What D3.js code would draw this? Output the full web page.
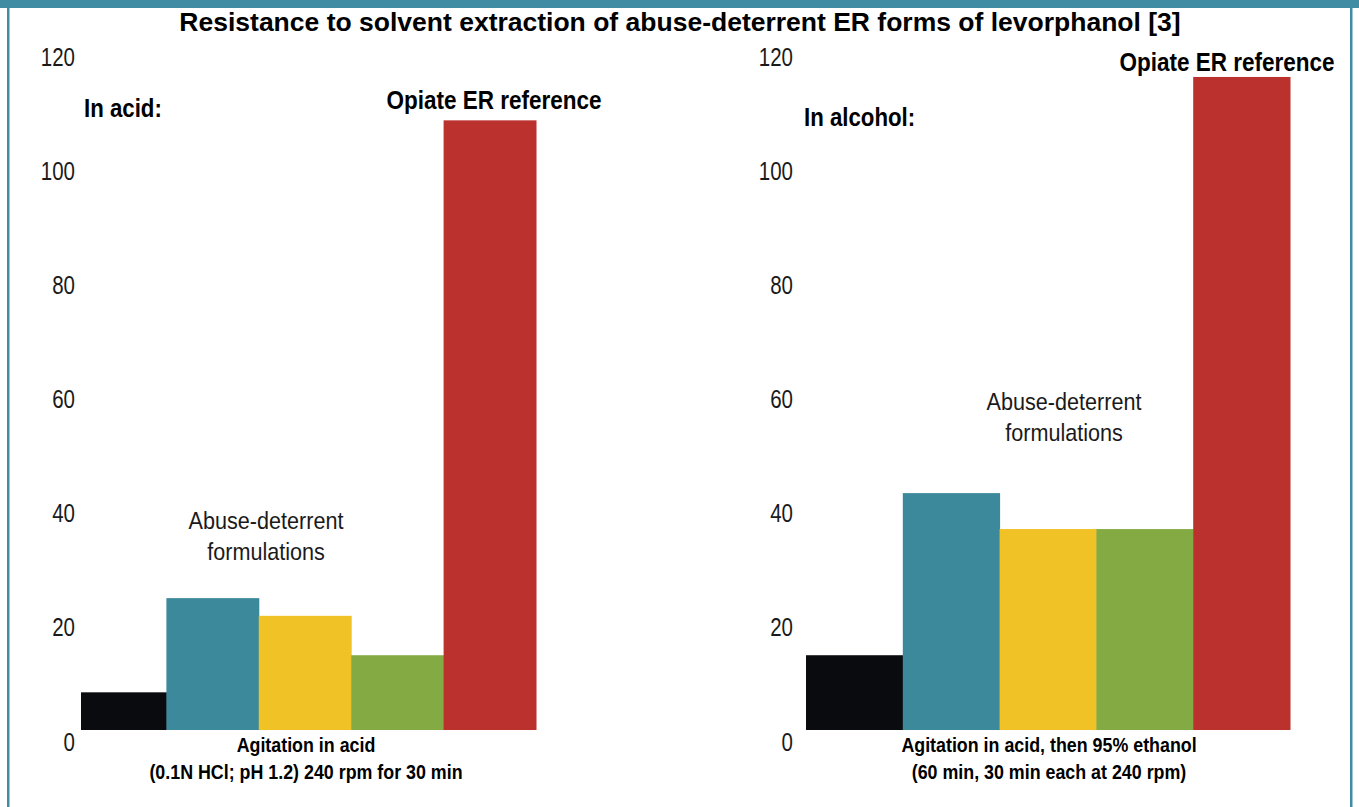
<html>
<head>
<script src="https://cdn.jsdelivr.net/npm/d3@7"></script>
<style>
  body { margin: 0; background: #fff; }
  text { font-family: "Liberation Sans", Arial, sans-serif; }
</style>
</head>
<body>
<svg id="container" width="1359" height="807"></svg>
<script>
// bars (left to right): black, teal, yellow, green, red reference
const formulations = ["f1", "f2", "f3", "f4", "ref"]
const barColors = ["#0a0b0f", "#3d899c", "#f1c225", "#84ab43", "#ba312d"]
const acidValues = [6.6, 23.1, 20.0, 13.1, 106.8]
const alcoholValues = [13.1, 41.5, 35.2, 35.2, 114.4]
const yTicks = [0, 20, 40, 60, 80, 100, 120]

let svg = d3.select("#container")
let frame = "#408ca3"

// condensed look: no narrow font installed, so squeeze horizontally
function narrowText(g, x, y, txt, size, weight, anchor, sx) {
    return g.append("text")
        .attr("transform", "translate(" + x + "," + y + ") scale(" + sx + ",1)")
        .attr("text-anchor", anchor)
        .style("font-size", size + "px")
        .style("font-weight", weight)
        .style("fill", weight == "bold" ? "#000" : "#1a1a1a")
        .text(txt)
}

// frame
svg.append("rect").attr("x", 0).attr("y", 0).attr("width", 1359).attr("height", 8).style("fill", frame)
svg.append("rect").attr("x", 7).attr("y", 0).attr("width", 2.5).attr("height", 807).style("fill", frame)
svg.append("rect").attr("x", 1350).attr("y", 0).attr("width", 2.5).attr("height", 807).style("fill", frame)

narrowText(svg, 680, 31, "Resistance to solvent extraction of abuse-deterrent ER forms of levorphanol [3]", 26.5, "bold", "middle", 1)

let y = d3.scaleLinear().domain([0, 120]).range([730, 45])

// band range, plus left clip edge (first bar is cut short in the acid panel)
let panels = [
    { id: "acid", values: acidValues, x0: 74, x1: 536, clipX: 81, axisX: 75,
      label: "In acid:", labelX: 84, labelY: 117,
      refX: 494, refY: 109,
      noteX: 266, noteY: 529,
      caption: ["Agitation in acid", "(0.1N HCl; pH 1.2) 240 rpm for 30 min"], capX: 306 },
    { id: "alcohol", values: alcoholValues, x0: 806, x1: 1290, clipX: 806, axisX: 793,
      label: "In alcohol:", labelX: 804, labelY: 126,
      refX: 1227, refY: 71,
      noteX: 1064, noteY: 410,
      caption: ["Agitation in acid, then 95% ethanol", "(60 min, 30 min each at 240 rpm)"], capX: 1049 }
]

let defs = svg.append("defs")

panels.forEach(p => {
    let g = svg.append("g")
    let x = d3.scaleBand().domain(formulations).range([p.x0, p.x1]).padding(0)

    defs.append("clipPath").attr("id", "clip-" + p.id)
        .append("rect")
        .attr("x", p.clipX).attr("y", 0)
        .attr("width", p.x1 - p.clipX + 1).attr("height", 807)

    g.append("g")
        .attr("clip-path", "url(#clip-" + p.id + ")")
        .selectAll("rect")
        .data(p.values)
        .enter()
        .append("rect")
        .attr("x", (d, i) => x(formulations[i]))
        .attr("width", x.bandwidth() + 0.5)
        .attr("y", d => y(d))
        .attr("height", d => y(0) - y(d))
        .style("fill", (d, i) => barColors[i])

    let axis = d3.axisLeft(y).tickValues(yTicks).tickSize(0).tickPadding(0)
    let ax = g.append("g")
        .attr("transform", "translate(" + p.axisX + ",12)")
        .call(axis)
    ax.select(".domain").remove()
    ax.selectAll("text")
        .attr("transform", "scale(0.82,1)")
        .style("font-family", "'Liberation Sans', Arial, sans-serif")
        .style("font-size", "25px")
        .style("fill", "#1a1a1a")

    narrowText(g, p.labelX, p.labelY, p.label, 25, "bold", "start", 0.89)
    narrowText(g, p.refX, p.refY, "Opiate ER reference", 25, "bold", "middle", 0.9)
    narrowText(g, p.noteX, p.noteY, "Abuse-deterrent", 24, "normal", "middle", 0.9)
    narrowText(g, p.noteX, p.noteY + 31, "formulations", 24, "normal", "middle", 0.9)

    p.caption.forEach((c, i) => {
        narrowText(g, p.capX, 752 + i * 27, c, 21, "bold", "middle", 0.85)
    })
})
</script>
</body>
</html>
